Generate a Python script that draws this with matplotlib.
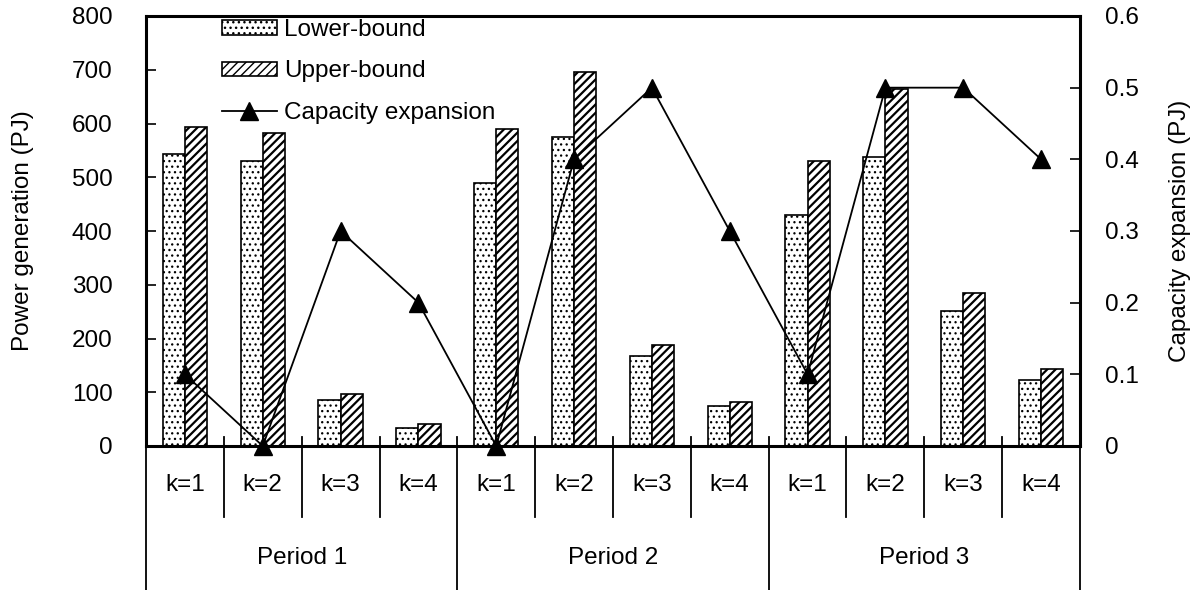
import numpy as np
import matplotlib
matplotlib.use('Agg')
import matplotlib.pyplot as plt

plt.rcParams['font.family'] = ['Liberation Sans', 'DejaVu Sans']
plt.rcParams['font.size'] = 17.5

# data
k_labels = ['k=1', 'k=2', 'k=3', 'k=4'] * 3
periods = ['Period 1', 'Period 2', 'Period 3']
lower_bound = [543, 530, 86, 33, 490, 574, 167, 74, 430, 538, 252, 123]
upper_bound = [593, 582, 97, 41, 590, 695, 187, 82, 530, 664, 284, 143]
capacity = [0.1, 0.0, 0.3, 0.2, 0.0, 0.4, 0.5, 0.3, 0.1, 0.5, 0.5, 0.4]

W, H = 1198, 590
fig = plt.figure(figsize=(W / 100, H / 100), dpi=100)
ax = fig.add_axes([146 / W, 1 - 446 / H, (1080 - 146) / W, 430 / H])

x = np.arange(len(k_labels))
bw = 0.285
with plt.rc_context({'hatch.linewidth': 0.9, 'hatch.color': '#333333'}):
    b1 = ax.bar(x - bw / 2, lower_bound, bw, color='white', edgecolor='black',
                linewidth=1.2, hatch='...', label='Lower-bound')
with plt.rc_context({'hatch.linewidth': 1.6}):
    b2 = ax.bar(x + bw / 2, upper_bound, bw, color='white', edgecolor='black',
                linewidth=1.2, hatch='////', label='Upper-bound')
for bars, lw in [(b1, 0.9), (b2, 1.6)]:
    for r in bars:
        if hasattr(r, 'set_hatch_linewidth'):
            r.set_hatch_linewidth(lw)

ax.set_xlim(-0.5, len(k_labels) - 0.5)
ax.set_ylim(0, 800)
ax.set_yticks(range(0, 801, 100))
ax.set_xticks([])
ax.tick_params(axis='y', direction='in', length=7, width=1.2, pad=24)
for s in ax.spines.values():
    s.set_linewidth(2.2)
ax.set_ylabel('Power generation (PJ)')
ax.yaxis.set_label_coords(-(146 - 34) / 934, 0.5)

ax2 = ax.twinx()
ax2.plot(x, capacity, color='black', linewidth=1.3, marker='^',
         markersize=13, clip_on=False, label='Capacity expansion')
ax2.set_ylim(0, 0.6)
ax2.set_yticks(np.arange(0, 0.61, 0.1))
ax2.set_yticklabels(['0', '0.1', '0.2', '0.3', '0.4', '0.5', '0.6'])
ax2.tick_params(axis='y', direction='in', length=7, width=1.2, pad=18)
ax2.set_xticks([])
ax2.set_ylabel('Capacity expansion (PJ)')
ax2.yaxis.set_label_coords(1 + (1169 - 1080) / 934, 0.5)

# category table under the axis
tr = ax.get_xaxis_transform()
for i, lab in enumerate(k_labels):
    ax.text(i, -0.0907, lab, transform=tr, ha='center', va='center')
    if i > 0 and i % 4 != 0:
        ax.plot([i - 0.5, i - 0.5], [0.021, -0.165], transform=tr,
                color='black', linewidth=1.3, clip_on=False)
for j, p in enumerate(periods):
    ax.text(4 * j + 1.5, -0.26, p, transform=tr, ha='center', va='center')
for b in [-0.5, 3.5, 7.5, 11.5]:
    ax.plot([b, b], [0.021, -0.36], transform=tr, color='black',
            linewidth=1.3, clip_on=False)

h1, l1 = ax.get_legend_handles_labels()
h2, l2 = ax2.get_legend_handles_labels()
ax2.legend(h1 + h2, l1 + l2, loc='upper left', frameon=False,
           bbox_to_anchor=(222 / W, 1 - 19 / H), bbox_transform=fig.transFigure,
           borderpad=0, borderaxespad=0, handlelength=2.26, handleheight=0.55,
           handletextpad=0.3, labelspacing=0.8)

fig.savefig('out.png', dpi=100)
